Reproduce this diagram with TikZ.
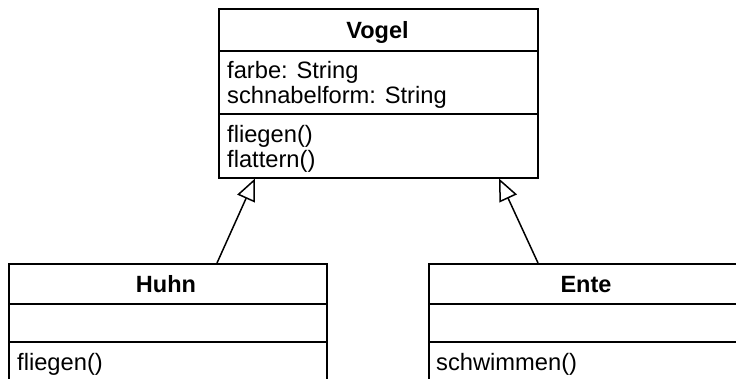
\documentclass[tikz,border=0pt]{standalone}
\usepackage{fontspec}
\setmainfont{Liberation Sans}
\usetikzlibrary{arrows.meta}
\begin{document}
\begin{tikzpicture}[x=1pt,y=-1pt,
  classbox/.style={draw, line width=1.5pt, inner sep=0pt, anchor=north west},
  divider/.style={line width=1.5pt},
  member/.style={anchor=base west, inner sep=0pt, font=\fontsize{23.7}{25}\selectfont},
  classname/.style={anchor=base, inner sep=0pt, font=\fontsize{23.5}{25}\selectfont\bfseries},
  inherits/.style={line width=1.5pt, -{Triangle[open, length=22pt, width=19pt, line width=1.5pt]}}]
\useasboundingbox (0,0) rectangle (736,378);
\clip (0,0) rectangle (736,378);

% superclass
\node[classbox, minimum width=319pt, minimum height=169pt] (vogel) at (218,8) {};
\draw[divider] ([yshift=-43pt]vogel.north west) -- ([yshift=-43pt]vogel.north east);
\draw[divider] ([yshift=-106pt]vogel.north west) -- ([yshift=-106pt]vogel.north east);
\node[classname] (vogelname) at (377.5,38) {Vogel};
\node[member] (farbe) at (227,78) {farbe: String};
\node[member] (schnabel) at (227,103) {schnabelform: String};
\node[member] (vfliegen) at (227,142) {fliegen()};
\node[member] (flattern) at (227,167) {flattern()};

% subclasses (they run on past the lower and right edges)
\node[classbox, minimum width=318pt, minimum height=140pt] (huhn) at (8,263) {};
\draw[divider] ([yshift=-41pt]huhn.north west) -- ([yshift=-41pt]huhn.north east);
\draw[divider] ([yshift=-79pt]huhn.north west) -- ([yshift=-79pt]huhn.north east);
\node[classname] (huhnname) at (166,292) {Huhn};
\node[member] (hfliegen) at (17,370) {fliegen()};

\node[classbox, minimum width=318pt, minimum height=140pt] (ente) at (428,263) {};
\draw[divider] ([yshift=-41pt]ente.north west) -- ([yshift=-41pt]ente.north east);
\draw[divider] ([yshift=-79pt]ente.north west) -- ([yshift=-79pt]ente.north east);
\node[classname] (entename) at (586,292) {Ente};
\node[member] (schwimmen) at (436,370) {schwimmen()};

% generalisation arrows
\draw[inherits] ([xshift=209pt]huhn.north west) -- ([xshift=37pt]vogel.south west);
\draw[inherits] ([xshift=110pt]ente.north west) -- ([xshift=281pt]vogel.south west);
\end{tikzpicture}
\end{document}
